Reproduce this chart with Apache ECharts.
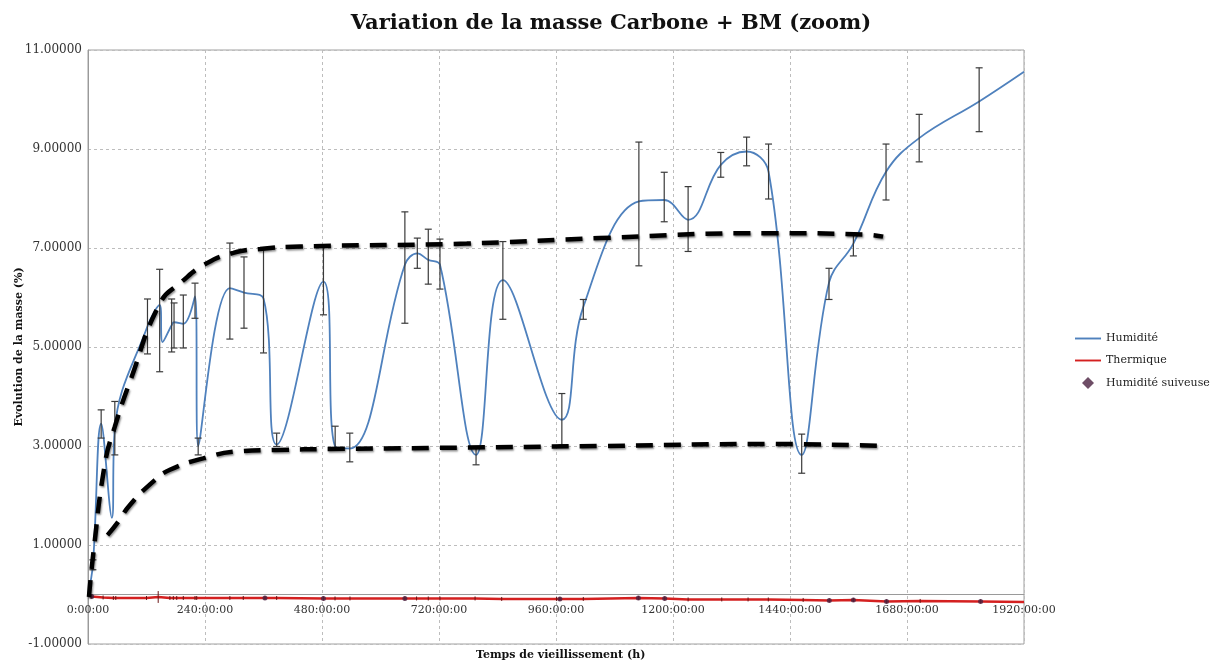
<!DOCTYPE html>
<html>
<head>
<meta charset="utf-8">
<script src="https://cdn.jsdelivr.net/npm/echarts@6/dist/echarts.min.js"></script>
<style>html,body{margin:0;padding:0;background:#fff;}#c{width:1222px;height:666px;}</style>
</head>
<body>
<div id="c"></div>
<script>
// ---- Humidité (time h, value %, error low, error high) ----
const humT  = [0, 10, 27, 49, 55, 122, 147, 153, 171.6, 176.5, 195.5, 219.5, 226, 291, 320, 360, 387, 483, 507, 537, 650, 675.5, 698, 722, 796, 851, 972, 1016, 1130, 1182, 1231, 1298, 1351, 1396, 1464, 1520, 1570, 1637, 1705, 1828, 1920];
const humV  = [0, 0.6, 3.45, 1.55, 3.35, 5.42, 5.85, 5.1, 5.44, 5.5, 5.47, 6.02, 3.0, 6.19, 6.1, 5.98, 3.03, 6.32, 2.99, 2.95, 6.66, 6.89, 6.76, 6.66, 2.82, 6.35, 3.53, 5.81, 7.94, 7.97, 7.57, 8.68, 8.95, 8.54, 2.82, 6.3, 7.09, 8.54, 9.22, 9.96, 10.56];
const humLo = [null, 0.5, 3.16, null, 2.82, 4.86, 4.5, null, 4.9, 4.98, 4.98, 5.58, 2.82, 5.16, 5.38, 4.88, 2.99, 5.65, 2.97, 2.68, 5.48, 6.59, 6.27, 6.17, 2.62, 5.56, 3.02, 5.56, 6.64, 7.53, 6.93, 8.43, 8.66, 7.99, 2.45, 5.96, 6.84, 7.97, 8.74, 9.35, null];
const humHi = [null, 0.7, 3.73, null, 3.9, 5.97, 6.57, null, 5.97, 5.89, 6.05, 6.29, 3.16, 7.1, 6.82, 6.98, 3.26, 7.03, 3.4, 3.26, 7.73, 7.2, 7.38, 7.18, 2.97, 7.13, 4.06, 5.96, 9.14, 8.53, 8.24, 8.93, 9.24, 9.1, 3.24, 6.59, 7.3, 9.1, 9.7, 10.64, null];

// ---- Thermique ----
const thT = [0, 7.6, 31, 52, 57, 120, 144, 168, 175, 182, 195.5, 219.5, 223, 291, 318.5, 363, 387, 483, 506.7, 537.4, 650, 674, 698, 722, 794, 848.6, 961, 968, 1016, 1129, 1183, 1231, 1300, 1354, 1395.5, 1467, 1520.6, 1570, 1638, 1707, 1831, 1920];
const thV = [0, -0.04, -0.06, -0.07, -0.07, -0.07, -0.05, -0.07, -0.07, -0.07, -0.07, -0.07, -0.07, -0.07, -0.07, -0.07, -0.07, -0.08, -0.08, -0.08, -0.08, -0.08, -0.08, -0.08, -0.08, -0.09, -0.09, -0.09, -0.09, -0.07, -0.08, -0.1, -0.1, -0.1, -0.1, -0.11, -0.12, -0.11, -0.14, -0.13, -0.14, -0.15];
const thErr = [0, 0.04, 0.04, 0.04, 0.04, 0.04, 0.12, 0.04, 0.04, 0.04, 0.04, 0.04, 0.04, 0.04, 0.04, 0.04, 0.04, 0.04, 0.04, 0.04, 0.04, 0.04, 0.04, 0.04, 0.04, 0.04, 0.04, 0.04, 0.04, 0.04, 0.04, 0.04, 0.04, 0.04, 0.04, 0.04, 0.04, 0.04, 0.04, 0.04, 0.04, 0];

// ---- Humidité suiveuse ----
const suT = [7.6, 363, 483, 650, 968, 1129, 1183, 1520.6, 1570, 1638, 1831];
const suV = [-0.04, -0.07, -0.08, -0.08, -0.09, -0.07, -0.08, -0.12, -0.11, -0.14, -0.14];

// ---- hand-drawn trend envelopes (dashed black) ----
const upT  = [2, 11, 35, 55, 86, 148, 189, 243, 298, 353, 435, 777, 1050, 1392, 1597, 1631];
const upV  = [-0.05, 0.84, 2.66, 3.39, 4.3, 5.89, 6.29, 6.69, 6.9, 6.98, 7.03, 7.09, 7.2, 7.3, 7.27, 7.23];
const lowT = [40, 62, 86, 137, 168, 236, 305, 387, 496, 700, 1050, 1400, 1631];
const lowV = [1.2, 1.47, 1.81, 2.31, 2.52, 2.75, 2.89, 2.92, 2.94, 2.96, 3.0, 3.04, 3.0];

const xTicks = [0, 240, 480, 720, 960, 1200, 1440, 1680, 1920];
const yTicks = [-1, 1, 3, 5, 7, 9, 11];

const FONT = 'DejaVu Serif';
const zip = (a, b) => a.map((v, i) => [v, b[i]]);

function errBars(color, width, capHalf) {
  return function (params, api) {
    const x = api.value(0), lo = api.value(1), hi = api.value(2);
    const p1 = api.coord([x, lo]), p2 = api.coord([x, hi]);
    const ch = [{ type: 'line', shape: { x1: p1[0], y1: p1[1], x2: p2[0], y2: p2[1] }, style: { stroke: color, lineWidth: width } }];
    if (capHalf > 0) {
      ch.push({ type: 'line', shape: { x1: p1[0] - capHalf, y1: p1[1], x2: p1[0] + capHalf, y2: p1[1] }, style: { stroke: color, lineWidth: width } });
      ch.push({ type: 'line', shape: { x1: p2[0] - capHalf, y1: p2[1], x2: p2[0] + capHalf, y2: p2[1] }, style: { stroke: color, lineWidth: width } });
    }
    return { type: 'group', children: ch };
  };
}

const humErr = humT.map((t, i) => [t, humLo[i], humHi[i]]).filter(d => d[1] !== null);
const thErrData = thT.map((t, i) => [t, thV[i] - thErr[i], thV[i] + thErr[i]]).filter(d => d[2] > d[1]);

// layout
const GRID = { left: 88, right: 198, top: 50, bottom: 22 };
const plotH = 666 - GRID.top - GRID.bottom;
const yMin = yTicks[0], yMax = yTicks[yTicks.length - 1];
const zeroOffset = -(0 - yMin) / (yMax - yMin) * plotH; // move x axis up to y = 0

const lineIcon = 'path://M0,0 H30 V2.2 H0 Z';

const chart = echarts.init(document.getElementById('c'), null, { renderer: 'canvas' });
const dashStyle = {
  color: '#000', width: 4.5, type: [17, 11], cap: 'butt',
  shadowColor: 'rgba(0,0,0,0.45)', shadowBlur: 2, shadowOffsetX: 1, shadowOffsetY: 1.5
};
chart.setOption({
  animation: false,
  backgroundColor: '#fff',
  textStyle: { fontFamily: FONT },
  title: {
    text: 'Variation de la masse Carbone + BM (zoom)',
    left: 'center', top: 8,
    textStyle: { fontFamily: FONT, fontWeight: 'bold', fontSize: 21, color: '#111' }
  },
  graphic: [{
    type: 'text', left: 476, top: 650,
    style: { text: 'Temps de vieillissement (h)', font: 'bold 11px "DejaVu Serif"', fill: '#111' }
  }],
  legend: {
    orient: 'vertical', left: 1070, top: 328, itemGap: 11, itemWidth: 26, itemHeight: 12,
    textStyle: { fontFamily: FONT, fontSize: 11, color: '#222' },
    data: [
      { name: 'Humidité', icon: lineIcon },
      { name: 'Thermique', icon: lineIcon },
      { name: 'Humidité suiveuse', icon: 'path://M15,3 L18,6 L15,9 L12,6 Z' }
    ]
  },
  grid: Object.assign({ show: true, borderColor: '#a0a0a0', borderWidth: 1, containLabel: false, outerBoundsMode: 'none' }, GRID),
  xAxis: {
    type: 'value', min: xTicks[0], max: xTicks[xTicks.length - 1], interval: 240,
    offset: zeroOffset,
    axisLine: { onZero: false, lineStyle: { color: '#9a9a9a', width: 1 } },
    axisTick: { show: false },
    axisLabel: { formatter: v => v + ':00:00', fontFamily: FONT, fontSize: 11, color: '#333', margin: 10, showMinLabel: true, showMaxLabel: true },
    splitLine: { show: true, lineStyle: { color: '#bdbdbd', type: [3, 3] } }
  },
  yAxis: {
    type: 'value', min: yMin, max: yMax, interval: 2,
    axisLine: { show: true, onZero: false, lineStyle: { color: '#9a9a9a' } },
    axisTick: { show: false },
    axisLabel: { formatter: v => v.toFixed(5), fontFamily: FONT, fontSize: 12, color: '#333', margin: 6 },
    splitLine: { show: true, lineStyle: { color: '#bdbdbd', type: [3, 3] } },
    name: 'Evolution de la masse (%)', nameLocation: 'middle', nameRotate: 90, nameGap: 63,
    nameMoveOverlap: false,
    nameTextStyle: { fontFamily: FONT, fontWeight: 'bold', fontSize: 11, color: '#111' }
  },
  series: [
    {
      name: 'Humidité', type: 'line', data: zip(humT, humV), smooth: 0.4, symbol: 'none',
      lineStyle: { color: '#4F81BD', width: 1.8 }, itemStyle: { color: '#4F81BD' }, z: 3
    },
    {
      name: 'Thermique', type: 'line', data: zip(thT, thV), symbol: 'none',
      lineStyle: { color: '#D42020', width: 2.5 }, itemStyle: { color: '#D42020' }, z: 3
    },
    {
      name: 'Humidité suiveuse', type: 'scatter', data: zip(suT, suV), symbol: 'circle', symbolSize: 5,
      itemStyle: { color: '#4a2140' }, z: 5
    },
    {
      name: 'errH', type: 'custom', data: humErr, renderItem: errBars('#3a3a3a', 1.2, 3.5),
      encode: { x: 0, y: [1, 2] }, z: 4, silent: true
    },
    {
      name: 'errT', type: 'custom', data: thErrData, renderItem: errBars('#6a1515', 1, 0),
      encode: { x: 0, y: [1, 2] }, z: 4, silent: true
    },
    {
      name: 'trendUp', type: 'line', data: zip(upT, upV), smooth: 0.5, symbol: 'none',
      lineStyle: dashStyle, z: 6, silent: true
    },
    {
      name: 'trendLow', type: 'line', data: zip(lowT, lowV), smooth: 0.5, symbol: 'none',
      lineStyle: dashStyle, z: 6, silent: true
    }
  ]
});
</script>
</body>
</html>
